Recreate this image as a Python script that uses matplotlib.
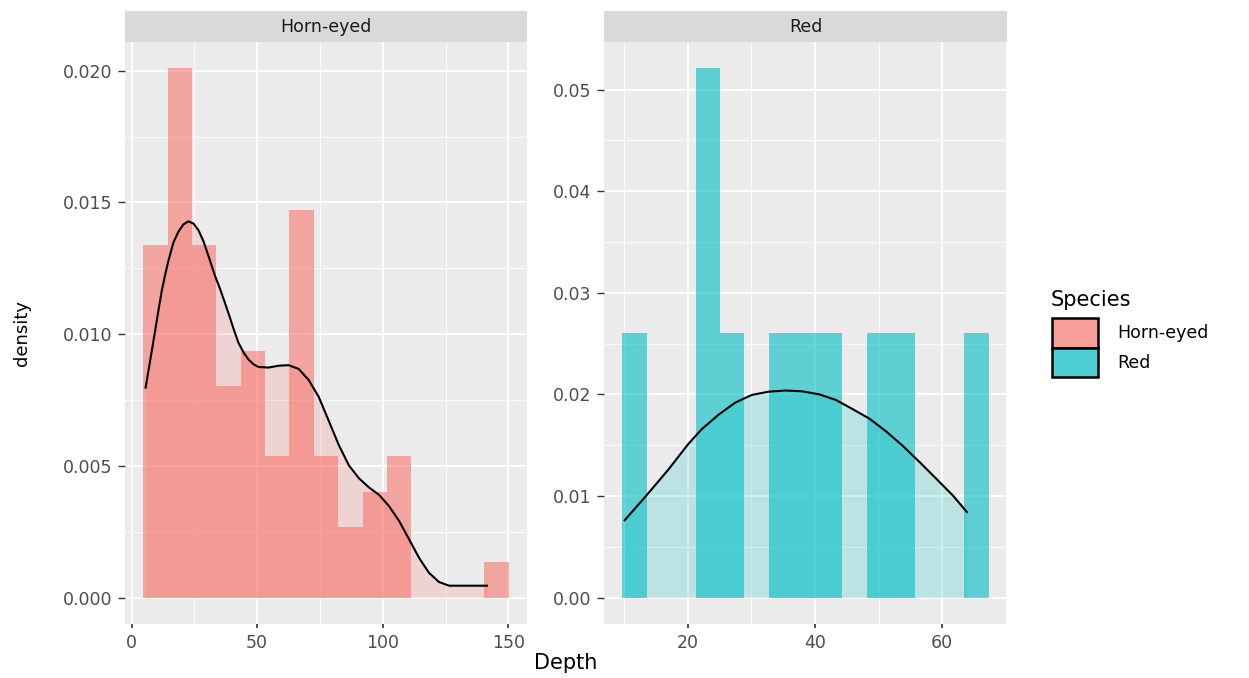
import numpy as np
import matplotlib
matplotlib.use("Agg")
import matplotlib.pyplot as plt
from matplotlib.patches import Rectangle
from matplotlib.ticker import MultipleLocator

plt.rcParams['font.family'] = ['DejaVu Sans']

# ---------------- data ----------------
species = ["Horn-eyed", "Red"]
species_colors = ["#F8766D", "#00BFC4"]

horn_bin_start = 4.66
horn_bin_width = 9.7
horn_counts = [10, 15, 10, 6, 7, 4, 11, 4, 2, 3, 4, 0, 0, 0, 1]

red_bin_start = 9.72
red_bin_width = 3.84
red_counts = [1, 0, 0, 2, 1, 0, 1, 1, 1, 0, 1, 1, 0, 0, 1]

horn_kde_x = [5.6, 7.5, 9.3, 10.7, 12.0, 13.3, 14.6, 16.6, 18.6, 20.6, 22.6, 24.6,
              26.6, 28.6, 30.6, 33.3, 35.3, 38.6, 40.6, 42.6, 44.6, 46.6, 48.6,
              50.6, 54.6, 58.6, 62.5, 66.5, 70.5, 74.5, 78.5, 82.5, 86.5,
              90.5, 94.5, 98.5, 102.5, 106.5, 110.5, 114.5, 118.4, 122.4, 126.4,
              130.4, 134.4, 141.5]
horn_kde_y = [0.00797, 0.00905, 0.01008, 0.01090, 0.01163, 0.01222, 0.01276, 0.01346,
              0.01388, 0.01416, 0.01428, 0.01420, 0.01395, 0.01353, 0.01297, 0.01219,
              0.01170, 0.01079, 0.01020, 0.00966, 0.00930, 0.00903, 0.00885,
              0.00875, 0.00873, 0.00880, 0.00882, 0.00868, 0.00826, 0.00762,
              0.00671, 0.00579, 0.00502, 0.00453, 0.00418, 0.00390, 0.00347,
              0.00291, 0.00221, 0.00150, 0.00094, 0.00059, 0.00045, 0.00045,
              0.00045, 0.00045]

red_kde_x = [10.09, 13.25, 16.94, 20.1, 22.2, 24.85, 27.5, 30.1, 32.76, 35.4, 38.0,
             40.7, 43.3, 45.9, 48.6, 51.2, 53.8, 56.5, 59.1, 61.7, 63.9]
red_kde_y = [0.00761, 0.00986, 0.01258, 0.01512, 0.01657, 0.01800, 0.01920, 0.01995,
             0.02027, 0.02038, 0.02030, 0.02000, 0.01945, 0.01856, 0.01760, 0.01635,
             0.01494, 0.01331, 0.01168, 0.01004, 0.00841]

horn_xticks = [0, 50, 100, 150]
horn_yticks = [0.000, 0.005, 0.010, 0.015, 0.020]
red_xticks = [20, 40, 60]
red_yticks = [0.00, 0.01, 0.02, 0.03, 0.04, 0.05]

# ---------------- figure ----------------
W, H = 1249, 678
fig = plt.figure(figsize=(W / 100, H / 100), dpi=100)

def fx(px):
    return px / W

def fy(py):
    return 1 - py / H

panel_top, panel_bot = 42, 624
strip_top = 11
panels = [(125, 527), (604, 1007)]

panel_data = [
    (horn_bin_start, horn_bin_width, horn_counts, horn_kde_x, horn_kde_y,
     horn_xticks, horn_yticks, "{:.3f}", 25, 0.0025),
    (red_bin_start, red_bin_width, red_counts, red_kde_x, red_kde_y,
     red_xticks, red_yticks, "{:.2f}", 10, 0.005),
]

tick_col = "#4D4D4D"
for i, ((x0, x1), pdat) in enumerate(zip(panels, panel_data)):
    start, width, counts, kx, ky, xt, yt, fmt, xminor, yminor = pdat
    ax = fig.add_axes([fx(x0), fy(panel_bot), fx(x1) - fx(x0), fy(panel_top) - fy(panel_bot)])
    ax.set_facecolor("#EBEBEB")
    for s in ax.spines.values():
        s.set_visible(False)
    counts = np.array(counts, dtype=float)
    n = counts.sum()
    dens = counts / (n * width)
    edges = start + width * np.arange(len(counts) + 1)
    col = species_colors[i]
    ax.bar(edges[:-1], dens, width=width, align="edge", color=col, alpha=0.6,
           linewidth=0, zorder=2)
    ax.fill_between(kx, ky, 0, color=col, alpha=0.2, linewidth=0, zorder=3)
    ax.plot(kx, ky, color="black", lw=1.5, zorder=4, solid_joinstyle="round")

    xr = edges[-1] - edges[0]
    ax.set_xlim(edges[0] - 0.05 * xr, edges[-1] + 0.05 * xr)
    ymax = dens.max()
    ax.set_ylim(-0.05 * ymax, ymax * 1.05)

    ax.set_xticks(xt)
    ax.set_yticks(yt)
    ax.set_yticklabels([fmt.format(v) for v in yt])
    ax.xaxis.set_minor_locator(MultipleLocator(xminor))
    ax.yaxis.set_minor_locator(MultipleLocator(yminor))
    ax.grid(True, which="major", color="white", lw=1.3, zorder=1)
    ax.grid(True, which="minor", color="white", lw=0.6, zorder=1)
    ax.set_axisbelow(True)
    ax.tick_params(axis="both", which="minor", length=0)
    ax.tick_params(axis="y", which="major", length=5, width=1.0, color="#333333",
                   labelcolor=tick_col, labelsize=12.5, pad=4)
    ax.tick_params(axis="x", which="major", length=3, width=1.2, color="#333333",
                   labelcolor=tick_col, labelsize=12.5, pad=4)

    # strip
    sax = fig.add_axes([fx(x0), fy(panel_top), fx(x1) - fx(x0), fy(strip_top) - fy(panel_top)])
    sax.set_facecolor("#D9D9D9")
    sax.set_xticks([])
    sax.set_yticks([])
    for s in sax.spines.values():
        s.set_visible(False)
    sax.text(0.5, 0.5, species[i], ha="center", va="center", fontsize=12.5,
             color="#1A1A1A", transform=sax.transAxes)

# axis titles
fig.text(fx((panels[0][0] + panels[1][1]) / 2), fy(663), "Depth", ha="center",
         va="center", fontsize=15, color="black")
fig.text(fx(22), fy(333), "density", ha="center", va="center", rotation=90,
         fontsize=13, color="black")

# legend
fig.text(fx(1051), fy(300), "Species", ha="left", va="center", fontsize=15, color="black")
key_cols = ["#F69E97", "#4DCFD3"]
key_y = [(318, 348), (348, 377)]
for i, ((ya, yb), kc) in enumerate(zip(key_y, key_cols)):
    fig.add_artist(Rectangle((fx(1052), fy(yb)), fx(1098) - fx(1052), fy(ya) - fy(yb),
                             transform=fig.transFigure, facecolor=kc,
                             edgecolor="black", lw=1.8))
    fig.text(fx(1117), fy((ya + yb) / 2), species[i], ha="left", va="center",
             fontsize=12.5, color="black")

fig.savefig("out.png", dpi=100, facecolor="white")
